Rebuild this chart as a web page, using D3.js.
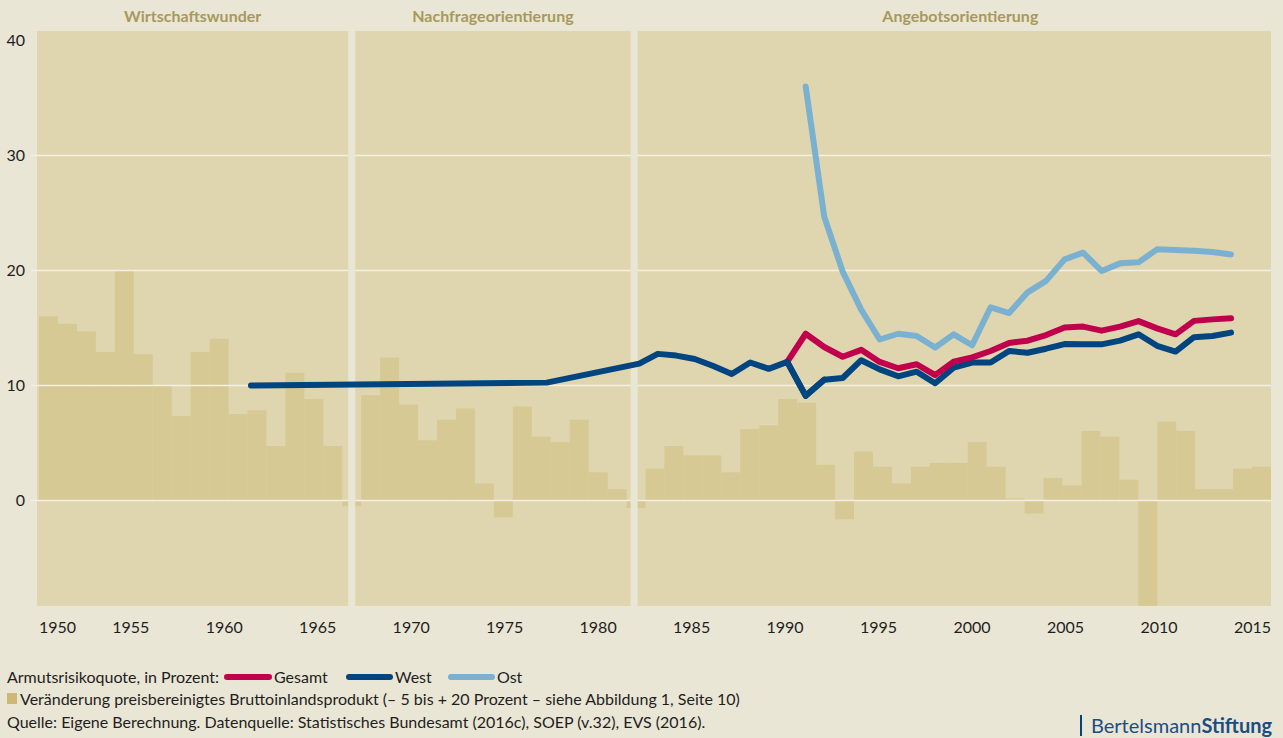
<!DOCTYPE html>
<html>
<head>
<meta charset="utf-8">
<script src="https://cdn.jsdelivr.net/npm/d3@7"></script>
<style>
  body { margin: 0; background: #eae6d5; }
  svg { display: block; font-family: Lato, "Open Sans", sans-serif; }
</style>
</head>
<body>
<svg width="1283" height="738"></svg>
<script>
// phases (title, first year, last year in bar units)
var phaseNames = ["Wirtschaftswunder", "Nachfrageorientierung", "Angebotsorientierung"];
var phaseBreaks = [1950.9, 1967.5, 1982.4, 2016];

// GDP change, real, in percent (bars)
var gdpYears = d3.range(1951, 2016);
var gdpValues = [9.8, 9.4, 9.0, 7.9, 12.2, 7.8, 6.1, 4.5, 7.9, 8.6,
                 4.6, 4.8, 2.9, 6.8, 5.4, 2.9, -0.3, 5.6, 7.6, 5.1,
                 3.2, 4.3, 4.9, 0.9, -0.9, 5.0, 3.4, 3.1, 4.3, 1.5,
                 0.6, -0.4, 1.7, 2.9, 2.4, 2.4, 1.5, 3.8, 4.0, 5.4,
                 5.2, 1.9, -1.0, 2.6, 1.8, 0.9, 1.8, 2.0, 2.0, 3.1,
                 1.8, 0.1, -0.7, 1.2, 0.8, 3.7, 3.4, 1.1, -5.6, 4.2,
                 3.7, 0.6, 0.6, 1.7, 1.8];

// Armutsrisikoquote
var westYears = [1961, 1977].concat(d3.range(1982, 2015));
var westValues = [10.0, 10.25, 11.9, 12.75, 12.6, 12.3, 11.7, 11.0, 12.0, 11.45,
                  12.05, 9.1, 10.5, 10.65, 12.2, 11.4, 10.8, 11.2, 10.2, 11.55,
                  12.0, 12.0, 13.0, 12.85, 13.2, 13.6, 13.58, 13.58, 13.9, 14.45,
                  13.45, 12.95, 14.2, 14.3, 14.6];
var gesamtYears = d3.range(1990, 2015);
var gesamtValues = [12.05, 14.5, 13.35, 12.5, 13.1, 12.05, 11.5, 11.85, 10.9, 12.07,
                    12.45, 13.0, 13.7, 13.9, 14.39, 15.05, 15.12, 14.77, 15.12, 15.6,
                    14.97, 14.45, 15.62, 15.75, 15.84];
var ostYears = d3.range(1991, 2015);
var ostValues = [36.0, 24.7, 19.9, 16.6, 14.0, 14.5, 14.3, 13.3, 14.45, 13.5,
                 16.8, 16.3, 18.1, 19.1, 20.97, 21.55, 19.96, 20.62, 20.71, 21.84,
                 21.78, 21.72, 21.6, 21.4];

var xTicks = [1950, 1955, 1960, 1965, 1970, 1975, 1980, 1985, 1990, 1995, 2000, 2005, 2010, 2015];
var yTicks = [0, 10, 20, 30, 40];

var svg = d3.select("svg"),
    width = +svg.attr("width"),
    height = +svg.attr("height");

var plotTop = 31, plotBottom = 606, plotLeft = 37, plotRight = 1271;

var xb = d3.scaleLinear().domain([1951, 2016]).range([39, 1271]);     // bars
var xl = d3.scaleLinear().domain([1991, 2014]).range([805.7, 1231]);  // lines
var xa = d3.scaleLinear().domain([1960, 2015]).range([223.7, 1252]);  // axis labels
var y = d3.scaleLinear().domain([0, 40]).range([500.5, 40.5]);
var yg = d3.scaleLinear().domain([0, 20]).range([500.5, 124.5]);      // gdp

svg.append("rect").attr("width", width).attr("height", height).attr("fill", "#eae6d5");

// panel background
svg.append("rect")
  .attr("x", plotLeft).attr("y", plotTop)
  .attr("width", plotRight - plotLeft).attr("height", plotBottom - plotTop)
  .attr("fill", "#dfd6af");

svg.append("clipPath").attr("id", "plot")
  .append("rect").attr("x", plotLeft).attr("y", plotTop)
  .attr("width", plotRight - plotLeft).attr("height", plotBottom - plotTop);

svg.append("g").attr("clip-path", "url(#plot)")
  .selectAll("rect").data(gdpValues).enter().append("rect")
  .attr("x", function(d, i) { return xb(gdpYears[i]); })
  .attr("width", function(d, i) { return xb(gdpYears[i] + 1) - xb(gdpYears[i]); })
  .attr("y", function(d) { return Math.min(yg(d), yg(0)); })
  .attr("height", function(d) { return Math.abs(yg(d) - yg(0)); })
  .attr("fill", "#d6c993");

// gridlines
svg.append("g").selectAll("line").data([0, 10, 20, 30]).enter().append("line")
  .attr("x1", 31).attr("x2", plotRight)
  .attr("y1", function(d) { return y(d); }).attr("y2", function(d) { return y(d); })
  .attr("stroke", "#f3efe1").attr("stroke-width", 1.6);

// separators between phases
svg.append("g").selectAll("rect").data(phaseBreaks.slice(1, 3)).enter().append("rect")
  .attr("x", function(d) { return xb(d) - 3.5; }).attr("y", plotTop)
  .attr("width", 7).attr("height", plotBottom - plotTop)
  .attr("fill", "#eae6d5");

// phase titles
svg.append("g").selectAll("text").data(phaseNames).enter().append("text")
  .attr("x", function(d, i) {
    var a = i == 0 ? plotLeft : xb(phaseBreaks[i]) + 3.5;
    var b = i == 2 ? width : xb(phaseBreaks[i + 1]) - 3.5;
    return (a + b) / 2;
  })
  .attr("y", 22)
  .attr("text-anchor", "middle")
  .attr("font-size", 16).attr("font-weight", "bold")
  .attr("fill", "#a8995b")
  .text(function(d) { return d; });

// lines
var line = d3.line()
  .x(function(d) { return xl(d[0]); })
  .y(function(d) { return y(d[1]); });

var series = [
  {name: "West", years: westYears, values: westValues, color: "#004580"},
  {name: "Ost", years: ostYears, values: ostValues, color: "#7ab1d0"},
  {name: "Gesamt", years: gesamtYears, values: gesamtValues, color: "#c1004d"}
];

svg.append("g").selectAll("path").data(series).enter().append("path")
  .attr("d", function(s) { return line(s.years.map(function(yr, i) { return [yr, s.values[i]]; })); })
  .attr("fill", "none")
  .attr("stroke", function(s) { return s.color; })
  .attr("stroke-width", 6)
  .attr("stroke-linejoin", "round")
  .attr("stroke-linecap", "round");

// West drawn on top where it crosses Gesamt
svg.append("path")
  .attr("d", line(westYears.map(function(yr, i) { return [yr, westValues[i]]; }).filter(function(d) { return d[0] >= 1990 && d[0] <= 1992; })))
  .attr("fill", "none").attr("stroke", "#004580").attr("stroke-width", 6)
  .attr("stroke-linejoin", "round").attr("stroke-linecap", "round");

// axes
var xAxis = svg.append("g")
  .attr("transform", "translate(0," + 622 + ")")
  .call(d3.axisBottom(xa).tickValues(xTicks).tickSize(0).tickPadding(0).tickFormat(d3.format("d")));
xAxis.select(".domain").remove();
xAxis.selectAll("text").attr("font-size", 16).attr("fill", "#1e1e1e").attr("font-family", "Lato");
xAxis.selectAll(".tick").filter(function(d) { return d == 1950; })
  .attr("transform", "translate(39,0)").select("text").attr("text-anchor", "start");

var yAxis = svg.append("g")
  .attr("transform", "translate(25,0)")
  .call(d3.axisLeft(y).tickValues(yTicks).tickSize(0).tickPadding(0));
yAxis.select(".domain").remove();
yAxis.selectAll("text").attr("font-size", 16).attr("fill", "#1e1e1e").attr("font-family", "Lato");

// legend
var leg = svg.append("g").attr("font-size", 16).attr("fill", "#1e1e1e");
leg.append("text").attr("x", 7).attr("y", 683).text("Armutsrisikoquote, in Prozent:");
var legItems = [
  {name: "Gesamt", color: "#c1004d", x1: 227, x2: 269, tx: 274},
  {name: "West", color: "#004580", x1: 349, x2: 390, tx: 395},
  {name: "Ost", color: "#7ab1d0", x1: 451, x2: 492, tx: 497}
];
legItems.forEach(function(d) {
  leg.append("line").attr("x1", d.x1).attr("x2", d.x2).attr("y1", 677).attr("y2", 677)
    .attr("stroke", d.color).attr("stroke-width", 6).attr("stroke-linecap", "round");
  leg.append("text").attr("x", d.tx).attr("y", 683).text(d.name);
});
leg.append("rect").attr("x", 7).attr("y", 693).attr("width", 10).attr("height", 11).attr("fill", "#cdb876");
leg.append("text").attr("x", 20).attr("y", 705)
  .text("Veränderung preisbereinigtes Bruttoinlandsprodukt (– 5 bis + 20 Prozent – siehe Abbildung 1, Seite 10)");
leg.append("text").attr("x", 7).attr("y", 728)
  .text("Quelle: Eigene Berechnung. Datenquelle: Statistisches Bundesamt (2016c), SOEP (v.32), EVS (2016).");

// logo
svg.append("rect").attr("x", 1080).attr("y", 715).attr("width", 2).attr("height", 21).attr("fill", "#004580");
var logo = svg.append("text").attr("x", 1091).attr("y", 733).attr("font-size", 20).attr("fill", "#1b4d84");
logo.append("tspan").text("Bertelsmann");
logo.append("tspan").attr("font-weight", "bold").text("Stiftung");
</script>
</body>
</html>
